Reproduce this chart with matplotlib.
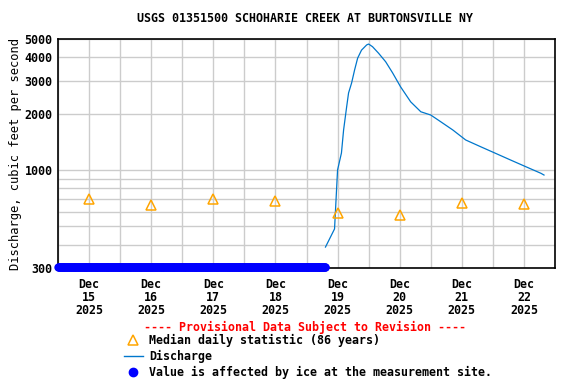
import numpy as np
import pandas as pd
import matplotlib
matplotlib.use('Agg')
import matplotlib.pyplot as plt
import matplotlib.dates as mdates
from matplotlib.lines import Line2D
from matplotlib.ticker import FixedLocator, NullFormatter

# data
title = 'USGS 01351500 SCHOHARIE CREEK AT BURTONSVILLE NY'

flow_times = ['2025-12-19 07:20', '2025-12-19 10:50', '2025-12-19 12:00', '2025-12-19 13:30',
              '2025-12-19 14:20', '2025-12-19 15:30', '2025-12-19 16:15', '2025-12-19 17:25',
              '2025-12-19 18:35', '2025-12-19 19:45', '2025-12-19 21:15', '2025-12-19 23:15',
              '2025-12-20 00:00', '2025-12-20 01:30', '2025-12-20 03:50', '2025-12-20 06:35',
              '2025-12-20 09:15', '2025-12-20 12:20', '2025-12-20 16:15', '2025-12-20 20:10',
              '2025-12-21 00:00', '2025-12-21 03:50', '2025-12-21 08:30', '2025-12-21 13:30',
              '2025-12-21 19:20', '2025-12-22 01:10', '2025-12-22 07:00', '2025-12-22 12:45',
              '2025-12-22 18:35', '2025-12-22 19:45']
flow_cfs = [388, 485, 1000, 1233, 1636, 2168, 2577, 2910,
            3420, 3950, 4360, 4650, 4700, 4550, 4200, 3780,
            3300, 2780, 2310, 2045, 1965, 1810, 1636, 1446,
            1330, 1225, 1128, 1041, 960, 940]

median_days = ['2025-12-15 12:00', '2025-12-16 12:00', '2025-12-17 12:00', '2025-12-18 12:00',
               '2025-12-19 12:00', '2025-12-20 12:00', '2025-12-21 12:00', '2025-12-22 12:00']
median_cfs = [700, 651, 700, 684, 590, 575, 666, 660]

ice_start = '2025-12-15 00:00'
ice_end = '2025-12-19 07:15'
ice_value = 305

day_labels = ['Dec\n15\n2025', 'Dec\n16\n2025', 'Dec\n17\n2025', 'Dec\n18\n2025',
              'Dec\n19\n2025', 'Dec\n20\n2025', 'Dec\n21\n2025', 'Dec\n22\n2025']
y_major = [300, 1000, 2000, 3000, 4000, 5000]
y_minor = [400, 500, 600, 700, 800, 900]

plt.rcParams['font.family'] = ['DejaVu Sans Mono']
plt.rcParams['font.weight'] = 'bold'
plt.rcParams['font.size'] = 8.4

fig = plt.figure(figsize=(5.76, 3.84), dpi=100)
ax = fig.add_axes([58 / 576, 1 - 268 / 384, 497 / 576, 229 / 384])

t_flow = pd.to_datetime(flow_times)
t_med = pd.to_datetime(median_days)
t_ice = pd.date_range(ice_start, ice_end, freq='15min')

ax.plot(t_ice, [ice_value] * len(t_ice), 'o', color='#0000FF', markersize=6,
        markeredgewidth=0, clip_on=False, zorder=4)
ax.plot(t_flow, flow_cfs, color='#0077CC', linewidth=0.9, zorder=3)
ax.plot(t_med, median_cfs, '^', markerfacecolor='none', markeredgecolor='#FFA500',
        markersize=7, markeredgewidth=1.1, linestyle='none', zorder=3)

ax.set_yscale('log')
ax.set_ylim(300, 5000)
ax.yaxis.set_major_locator(FixedLocator(y_major))
ax.yaxis.set_minor_locator(FixedLocator(y_minor))
ax.set_yticklabels([str(v) for v in y_major])
ax.yaxis.set_minor_formatter(NullFormatter())

ax.set_xlim(pd.Timestamp('2025-12-15'), pd.Timestamp('2025-12-23'))
ax.set_xticks(t_med)
ax.set_xticklabels(day_labels, linespacing=1.0)
ax.xaxis.set_minor_locator(mdates.DayLocator())

ax.grid(True, which='both', color='#CCCCCC', linewidth=1)
ax.set_axisbelow(True)
ax.tick_params(which='both', length=0)
ax.tick_params(axis='x', pad=7)
ax.tick_params(axis='y', pad=4)
for s in ax.spines.values():
    s.set_linewidth(1.2)

ax.set_ylabel('Discharge, cubic feet per second', fontsize=8.7, labelpad=2)
fig.text(305 / 576, 1 - 19 / 384, title, ha='center', va='center')
fig.text(305 / 576, 1 - 327 / 384, '---- Provisional Data Subject to Revision ----',
         ha='center', va='center', color='#FF0000')

handles = [
    Line2D([], [], marker='^', linestyle='none', markerfacecolor='none',
           markeredgecolor='#FFA500', markersize=7, markeredgewidth=1.1),
    Line2D([], [], color='#0077CC', linewidth=1),
    Line2D([], [], marker='o', linestyle='none', color='#0000FF', markersize=6),
]
labels = ['Median daily statistic (86 years)', 'Discharge',
          'Value is affected by ice at the measurement site.']
fig.legend(handles, labels, loc='upper left', bbox_to_anchor=(124 / 576, 1 - 334 / 384),
           frameon=False, borderpad=0, borderaxespad=0, handlelength=1.6,
           handletextpad=0.55, labelspacing=0.25)

fig.savefig('out.png', dpi=100)
